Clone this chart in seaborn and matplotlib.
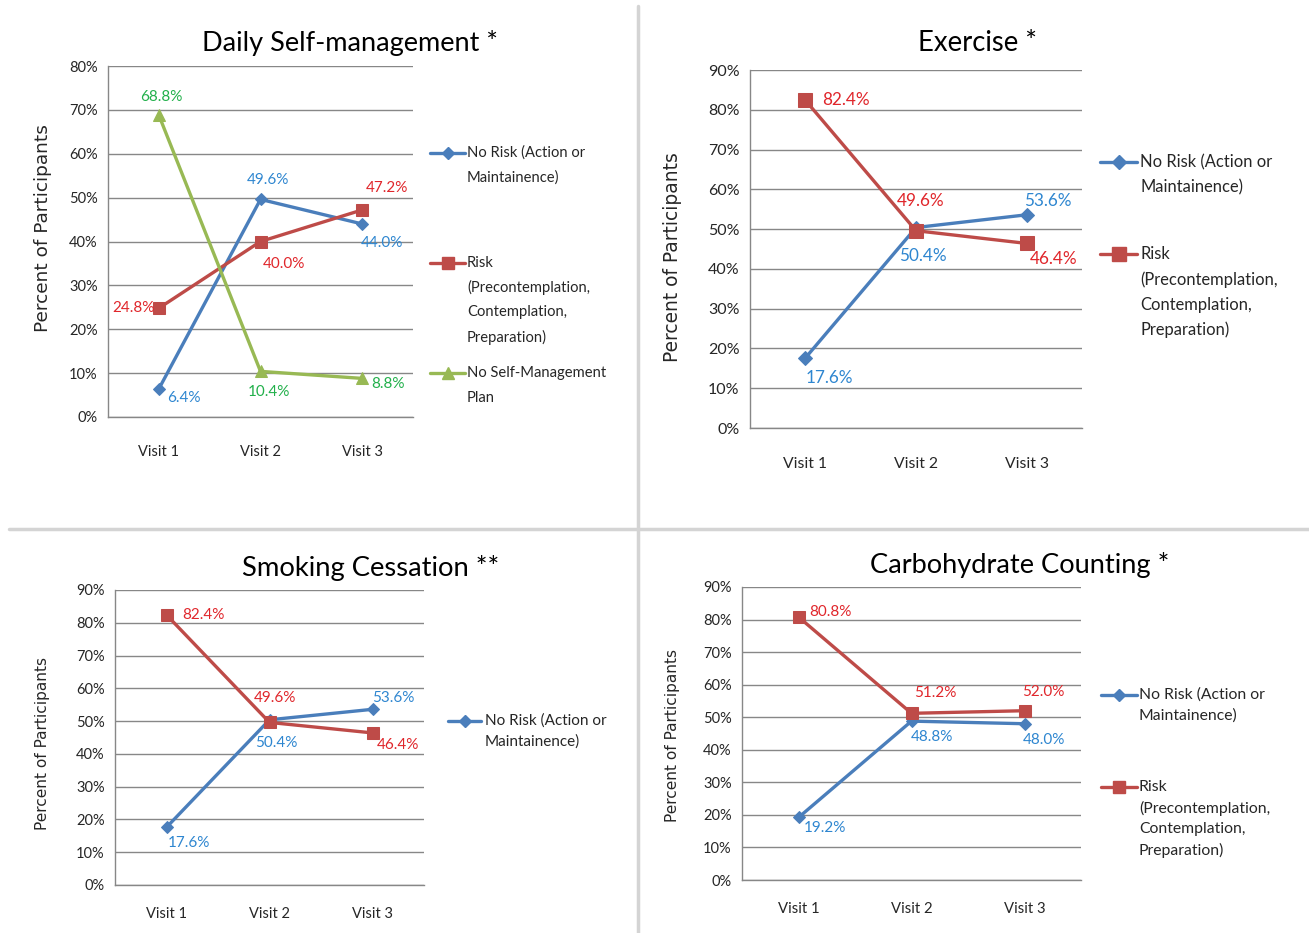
import matplotlib
matplotlib.use("Agg")
import matplotlib.pyplot as plt
import numpy as np
import pandas as pd
import seaborn as sns
from matplotlib.lines import Line2D

# data (percent of participants)
visits = ["Visit 1", "Visit 2", "Visit 3"]

dsm_no_risk = [6.4, 49.6, 44.0]
dsm_risk = [24.8, 40.0, 47.2]
dsm_no_plan = [68.8, 10.4, 8.8]

ex_no_risk = [17.6, 50.4, 53.6]
ex_risk = [82.4, 49.6, 46.4]

smk_no_risk = [17.6, 50.4, 53.6]
smk_risk = [82.4, 49.6, 46.4]

carb_no_risk = [19.2, 48.8, 48.0]
carb_risk = [80.8, 51.2, 52.0]

titles = ["Daily Self-management *", "Exercise *", "Smoking Cessation **", "Carbohydrate Counting *"]
lab_no_risk = "No Risk (Action or\nMaintainence)"
lab_risk = "Risk\n(Precontemplation,\nContemplation,\nPreparation)"
lab_no_plan = "No Self-Management\nPlan"

W, H = 1309, 933
BLUE, RED, GREEN = "#4A7EBB", "#BE4B48", "#98B954"
BLUE_T, RED_T, GREEN_T = "#2E86D0", "#E0262B", "#22B04B"
GRID = "#878787"
TXT = "#262626"

sns.set_style("white")
plt.rcParams["font.family"] = ["Lato", "DejaVu Sans"]

fig = plt.figure(figsize=(W / 100, H / 100), dpi=100)
fig.patch.set_facecolor("white")


def fx(x):
    return x / W


def fy(y):
    return 1 - y / H


def make_axes(left, right, top, bottom, ymax, fs, xfs, xpad):
    ax = fig.add_axes([fx(left), fy(bottom), fx(right - left), (bottom - top) / H])
    ax.set_xlim(-0.5, len(visits) - 0.5)
    ax.set_ylim(0, ymax)
    yt = np.arange(0, ymax + 1, 10)
    ax.set_yticks(yt)
    ax.set_yticklabels([f"{int(v)}%" for v in yt], fontsize=fs, color=TXT)
    ax.set_xticks(range(len(visits)))
    ax.set_xticklabels(visits, fontsize=xfs, color=TXT)
    ax.set_xticks(np.arange(-0.5, len(visits)), minor=True)
    ax.tick_params(axis="x", which="major", length=0, pad=xpad)
    ax.tick_params(axis="x", which="minor", length=4.5, width=1, color=GRID, direction="out")
    ax.tick_params(axis="y", length=4.5, width=1, color=GRID, direction="out", pad=3)
    ax.yaxis.grid(True, color=GRID, lw=1)
    ax.set_axisbelow(True)
    for s in ["top", "right"]:
        ax.spines[s].set_visible(False)
    for s in ["left", "bottom"]:
        ax.spines[s].set_color(GRID)
        ax.spines[s].set_linewidth(1)
    ax.set_xlabel("")
    ax.set_ylabel("")
    return ax


def draw_series(ax, values, color, marker, ms, tcolor, offsets, fs):
    pos = np.arange(len(visits))
    sns.lineplot(x=pos, y=values, color=color, marker=marker, markersize=ms,
                 markeredgecolor=color, lw=2.4, ax=ax, legend=False)
    for i, v in enumerate(values):
        dx, dy, ha = offsets[i]
        ax.annotate(f"{v:.1f}%", (pos[i], v), xytext=(dx, -dy), textcoords="offset pixels",
                    ha=ha, va="center", color=tcolor, fontsize=fs)


def legend(entries, x0, x1, tx, spacing, fs):
    for label, color, marker, ms, y in entries:
        fig.add_artist(Line2D([fx(x0), fx(x1)], [fy(y), fy(y)], color=color, lw=2.4,
                              transform=fig.transFigure))
        fig.add_artist(Line2D([fx((x0 + x1) / 2)], [fy(y)], color=color, marker=marker,
                              markersize=ms, transform=fig.transFigure))
        for k, line in enumerate(label.split("\n")):
            fig.text(fx(tx), fy(y + k * spacing), line, ha="left", va="center",
                     fontsize=fs, color=TXT)


# separators between panels
fig.add_artist(Line2D([fx(638), fx(638)], [fy(6), 0], color="#D4D4D4", lw=2.5, transform=fig.transFigure))
fig.add_artist(Line2D([fx(9), 1], [fy(529), fy(529)], color="#D4D4D4", lw=2.5, transform=fig.transFigure))

# panel 1: daily self-management
ax1 = make_axes(108, 413, 66, 417, 80, 10.5, 10.5, 20)
draw_series(ax1, dsm_no_risk, BLUE, "D", 6.5, BLUE_T, [(25, 9, "center"), (7, -19, "center"), (20, 19, "center")], 11)
draw_series(ax1, dsm_risk, RED, "s", 8.5, RED_T, [(-4, 0, "right"), (23, 22, "center"), (25, -22, "center")], 11)
draw_series(ax1, dsm_no_plan, GREEN, "^", 8.5, GREEN_T, [(2, -18, "center"), (8, 21, "center"), (26, 6, "center")], 11)
fig.text(fx(350), fy(43), titles[0], ha="center", va="center", fontsize=19.5, color="black")
fig.text(fx(43), fy(228), "Percent of Participants", rotation=90, ha="center", va="center",
         fontsize=13.3, color=TXT, family="DejaVu Sans")
legend([(lab_no_risk, BLUE, "D", 6.5, 153), (lab_risk, RED, "s", 8.5, 263), (lab_no_plan, GREEN, "^", 8.5, 373)],
       430, 465, 467, 24.7, 10.6)

# panel 2: exercise
ax2 = make_axes(750, 1082, 70, 428, 90, 11.5, 11.3, 21)
draw_series(ax2, ex_no_risk, BLUE, "D", 7, BLUE_T, [(24, 20, "center"), (7, 28, "center"), (21, -14, "center")], 12.3)
draw_series(ax2, ex_risk, RED, "s", 9.5, RED_T, [(17, 0, "left"), (5, -30, "center"), (27, 16, "center")], 12.3)
fig.text(fx(977), fy(43), titles[1], ha="center", va="center", fontsize=19.8, color="black")
fig.text(fx(672), fy(257), "Percent of Participants", rotation=90, ha="center", va="center",
         fontsize=13.4, color=TXT, family="DejaVu Sans")
legend([(lab_no_risk, BLUE, "D", 7, 162), (lab_risk, RED, "s", 9.5, 254)], 1100, 1137, 1140, 25.3, 11.9)

# panel 3: smoking cessation
ax3 = make_axes(115, 424, 590, 885, 90, 10.5, 10.5, 16)
draw_series(ax3, smk_no_risk, BLUE, "D", 6.5, BLUE_T, [(22, 16, "center"), (7, 23, "center"), (21, -11, "center")], 11)
draw_series(ax3, smk_risk, RED, "s", 8.5, RED_T, [(16, 0, "left"), (5, -24, "center"), (25, 12, "center")], 11)
fig.text(fx(371), fy(568), titles[2], ha="center", va="center", fontsize=19.7, color="black")
fig.text(fx(43), fy(743), "Percent of Participants", rotation=90, ha="center", va="center",
         fontsize=11.1, color=TXT, family="DejaVu Sans")
legend([(lab_no_risk, BLUE, "D", 6.5, 721)], 448, 481, 485, 20.5, 11)

# panel 4: carbohydrate counting
ax4 = make_axes(742, 1081, 587, 880, 90, 10.5, 10.7, 16)
draw_series(ax4, carb_no_risk, BLUE, "D", 6.5, BLUE_T, [(26, 11, "center"), (20, 16, "center"), (19, 16, "center")], 11)
draw_series(ax4, carb_risk, RED, "s", 8.5, RED_T, [(11, -5, "left"), (24, -20, "center"), (19, -19, "center")], 11)
fig.text(fx(1020), fy(565), titles[3], ha="center", va="center", fontsize=19.6, color="black")
fig.text(fx(673), fy(736), "Percent of Participants", rotation=90, ha="center", va="center",
         fontsize=11.1, color=TXT, family="DejaVu Sans")
legend([(lab_no_risk, BLUE, "D", 6.5, 695), (lab_risk, RED, "s", 8.5, 787)], 1101, 1137, 1139, 21, 11.3)

fig.savefig("out.png", dpi=100, facecolor="white")
